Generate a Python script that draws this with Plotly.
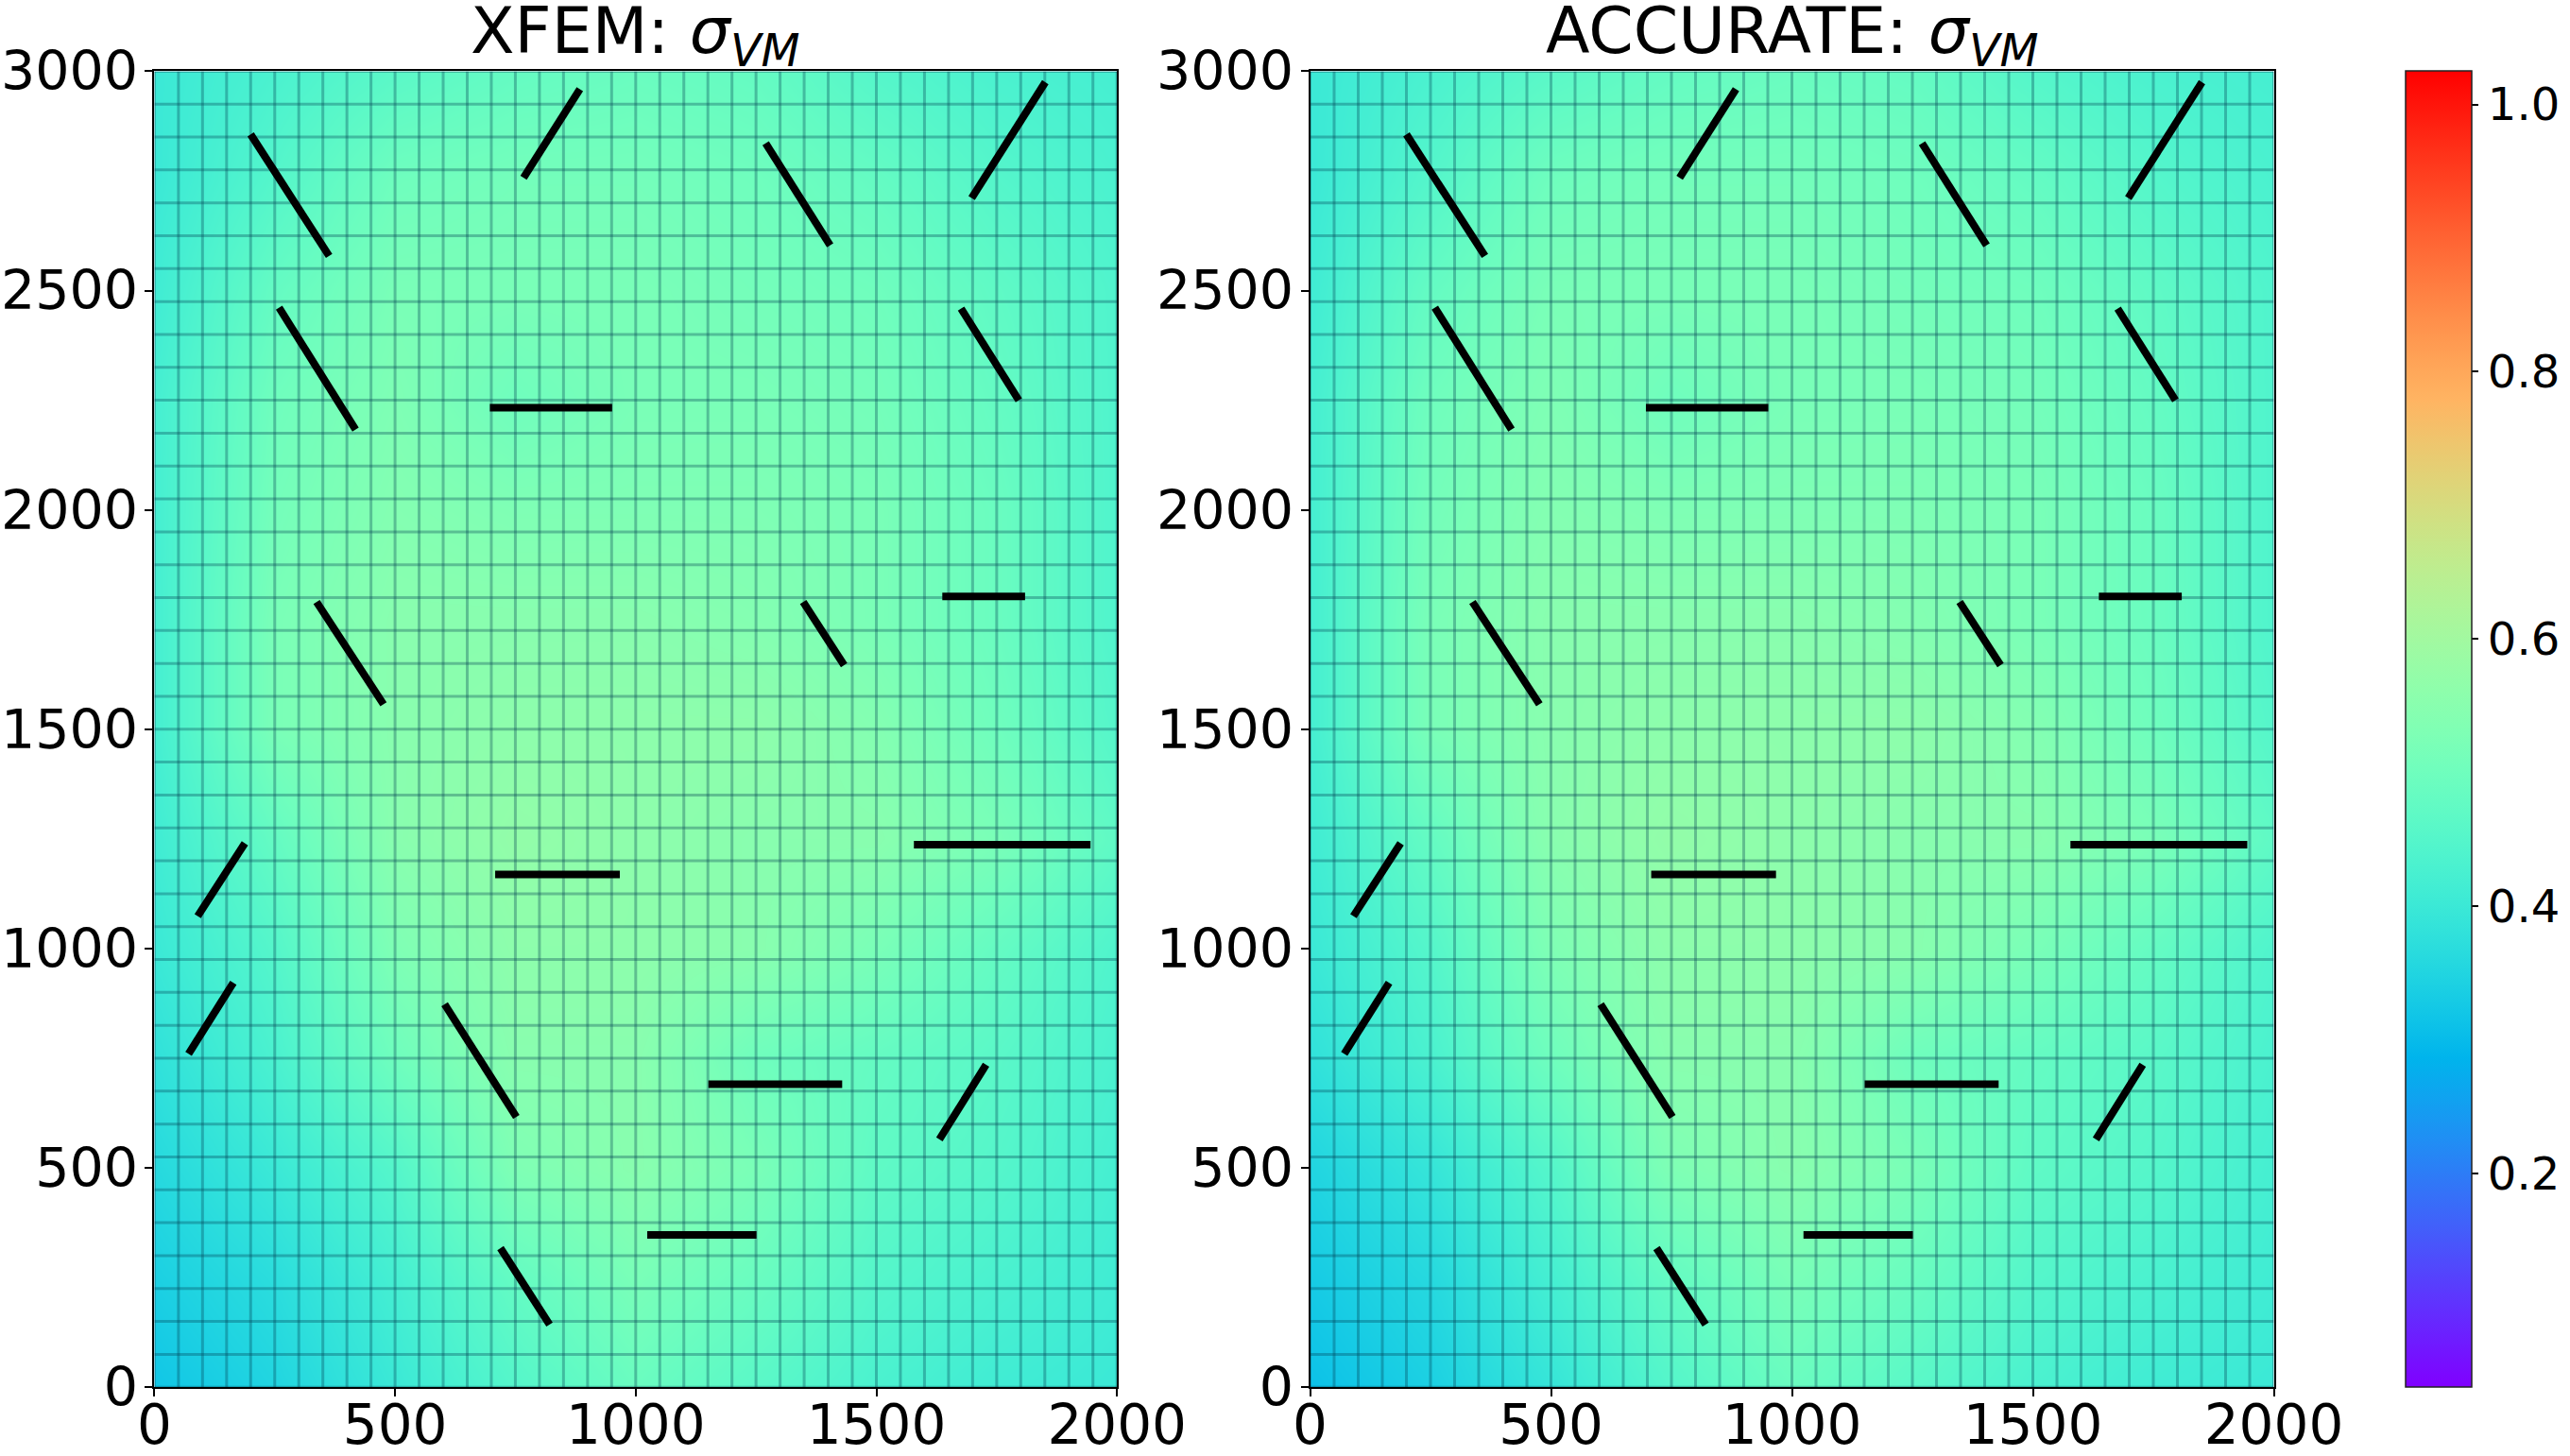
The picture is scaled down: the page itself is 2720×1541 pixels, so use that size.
import numpy as np
import plotly.graph_objects as go

# ---------------- data ----------------
field_x = [0, 250, 500, 750, 1000, 1250, 1500, 1750, 2000]
field_y = [0, 250, 500, 750, 1000, 1250, 1500, 1750, 2000, 2250, 2500, 2750, 3000]

sigma_xfem = [
    [0.32, 0.35, 0.40, 0.45, 0.49, 0.46, 0.43, 0.41, 0.40],
    [0.34, 0.37, 0.42, 0.48, 0.52, 0.49, 0.45, 0.43, 0.41],
    [0.36, 0.40, 0.45, 0.53, 0.55, 0.52, 0.47, 0.45, 0.42],
    [0.38, 0.43, 0.50, 0.55, 0.55, 0.50, 0.48, 0.46, 0.43],
    [0.40, 0.45, 0.53, 0.56, 0.56, 0.55, 0.52, 0.48, 0.44],
    [0.41, 0.48, 0.55, 0.57, 0.56, 0.55, 0.55, 0.52, 0.47],
    [0.42, 0.52, 0.55, 0.56, 0.56, 0.56, 0.54, 0.50, 0.45],
    [0.42, 0.52, 0.55, 0.55, 0.55, 0.54, 0.52, 0.49, 0.44],
    [0.42, 0.51, 0.54, 0.53, 0.53, 0.53, 0.52, 0.49, 0.44],
    [0.42, 0.50, 0.53, 0.50, 0.52, 0.52, 0.51, 0.48, 0.44],
    [0.41, 0.48, 0.52, 0.52, 0.52, 0.51, 0.50, 0.47, 0.44],
    [0.40, 0.45, 0.50, 0.51, 0.51, 0.50, 0.48, 0.45, 0.43],
    [0.40, 0.43, 0.46, 0.48, 0.49, 0.48, 0.45, 0.43, 0.42],
]

sigma_accurate = [
    [0.31, 0.34, 0.39, 0.45, 0.49, 0.46, 0.43, 0.41, 0.40],
    [0.33, 0.36, 0.42, 0.48, 0.52, 0.49, 0.45, 0.43, 0.41],
    [0.35, 0.39, 0.45, 0.53, 0.55, 0.52, 0.47, 0.45, 0.42],
    [0.38, 0.43, 0.50, 0.55, 0.55, 0.50, 0.48, 0.46, 0.43],
    [0.40, 0.45, 0.53, 0.56, 0.56, 0.55, 0.52, 0.48, 0.44],
    [0.41, 0.48, 0.55, 0.57, 0.56, 0.55, 0.55, 0.52, 0.47],
    [0.42, 0.52, 0.55, 0.56, 0.56, 0.56, 0.54, 0.50, 0.45],
    [0.42, 0.52, 0.55, 0.55, 0.55, 0.54, 0.52, 0.49, 0.44],
    [0.42, 0.51, 0.54, 0.53, 0.53, 0.53, 0.52, 0.49, 0.44],
    [0.42, 0.50, 0.53, 0.50, 0.52, 0.52, 0.51, 0.48, 0.44],
    [0.41, 0.48, 0.52, 0.52, 0.52, 0.51, 0.50, 0.47, 0.44],
    [0.40, 0.45, 0.50, 0.51, 0.51, 0.50, 0.48, 0.45, 0.43],
    [0.40, 0.43, 0.46, 0.48, 0.49, 0.48, 0.45, 0.43, 0.42],
]

# crack segments (start / end points)
crack_x0 = [200, 767, 1270, 1698, 259, 697, 1676, 337, 1348, 1637, 90, 708, 1578, 71, 603, 1151, 1631, 1024, 719]
crack_y0 = [2856, 2757, 2836, 2711, 2461, 2233, 2459, 1790, 1790, 1803, 1074, 1169, 1237, 760, 873, 691, 565, 347, 317]
crack_x1 = [363, 884, 1404, 1851, 418, 951, 1796, 476, 1433, 1809, 188, 967, 1945, 164, 752, 1429, 1728, 1251, 821]
crack_y1 = [2579, 2959, 2603, 2975, 2183, 2233, 2250, 1557, 1646, 1803, 1240, 1169, 1237, 922, 616, 691, 735, 347, 143]

# finite element mesh (40 x 40 elements)
mesh_x = list(range(0, 2001, 50))
mesh_y = list(range(0, 3001, 75))

x_ticks = [0, 500, 1000, 1500, 2000]
y_ticks = [0, 500, 1000, 1500, 2000, 2500, 3000]
cbar_ticks = [0.2, 0.4, 0.6, 0.8, 1.0]
cbar_labels = ["0.2", "0.4", "0.6", "0.8", "1.0"]
titles = ["XFEM: <i>σ</i><sub><i>VM</i></sub>", "ACCURATE: <i>σ</i><sub><i>VM</i></sub>"]

CMIN, CMAX = 0.04, 1.025

# matplotlib 'rainbow' colormap
def rainbow_scale(n=33):
    out = []
    for t in np.linspace(0, 1, n):
        r = min(1, abs(2 * t - 0.5))
        g = np.sin(np.pi * t)
        b = np.cos(np.pi * t / 2)
        out.append([float(t), "rgb(%d,%d,%d)" % (round(r * 255), round(g * 255), round(max(b, 0) * 255))])
    return out

cscale = rainbow_scale()

FONT = "DejaVu Sans"
W, H = 2720, 1541
dom_x = [[163.4 / W, 1182.2 / W], [1386.5 / W, 2406.5 / W]]
dom_y = [(H - 1468.2) / H, (H - 75.4) / H]

fig = go.Figure()

def mesh_lines():
    xs, ys = [], []
    for x in mesh_x:
        xs += [x, x, None]
        ys += [mesh_y[0], mesh_y[-1], None]
    for y in mesh_y:
        xs += [mesh_x[0], mesh_x[-1], None]
        ys += [y, y, None]
    return xs, ys

def crack_lines():
    xs, ys = [], []
    for a, b, c, d in zip(crack_x0, crack_y0, crack_x1, crack_y1):
        xs += [a, c, None]
        ys += [b, d, None]
    return xs, ys

for i, field in enumerate([sigma_xfem, sigma_accurate]):
    xa = "x" if i == 0 else "x2"
    ya = "y" if i == 0 else "y2"
    fig.add_trace(go.Heatmap(
        x=field_x, y=field_y, z=field, zsmooth="best",
        colorscale=cscale, zmin=CMIN, zmax=CMAX,
        showscale=(i == 0), xaxis=xa, yaxis=ya,
        colorbar=dict(
            x=2546 / W, xanchor="left", xpad=0,
            y=dom_y[0], yanchor="bottom", len=dom_y[1] - dom_y[0], lenmode="fraction",
            ypad=0, thickness=70, thicknessmode="pixels",
            outlinewidth=1.5, outlinecolor="#222222",
            tickvals=cbar_ticks, ticktext=cbar_labels,
            ticks="outside", ticklen=7, tickwidth=1.5, tickcolor="black",
            tickfont=dict(family=FONT, size=48, color="black"),
        ),
    ))
    mx, my = mesh_lines()
    fig.add_trace(go.Scatter(x=mx, y=my, mode="lines", xaxis=xa, yaxis=ya,
                             line=dict(color="rgba(0,60,80,0.32)", width=3),
                             hoverinfo="skip", showlegend=False))
    cx, cy = crack_lines()
    fig.add_trace(go.Scatter(x=cx, y=cy, mode="lines", xaxis=xa, yaxis=ya,
                             line=dict(color="black", width=8),
                             hoverinfo="skip", showlegend=False))

axis_x = dict(showline=True, mirror=True, linecolor="black", linewidth=2,
              ticks="outside", ticklen=8, tickwidth=2, tickcolor="black",
              showgrid=False, zeroline=False, automargin=False, ticklabelstandoff=-20,
              tickfont=dict(family=FONT, size=58, color="black"))
axis_y = dict(showline=True, mirror=True, linecolor="black", linewidth=2,
              ticks="outside", ticklen=8, tickwidth=2, tickcolor="black",
              showgrid=False, zeroline=False, automargin=False, ticklabelstandoff=-4,
              tickfont=dict(family=FONT, size=57, color="black"))

fig.update_layout(
    width=W, height=H,
    margin=dict(l=0, r=0, t=0, b=0, autoexpand=False),
    paper_bgcolor="white", plot_bgcolor="white",
    showlegend=False,
    xaxis=dict(domain=dom_x[0], range=[0, 2000], tickvals=x_ticks, anchor="y", **axis_x),
    yaxis=dict(domain=dom_y, range=[0, 3000], tickvals=y_ticks, anchor="x", **axis_y),
    xaxis2=dict(domain=dom_x[1], range=[0, 2000], tickvals=x_ticks, anchor="y2", **axis_x),
    yaxis2=dict(domain=dom_y, range=[0, 3000], tickvals=y_ticks, anchor="x2", **axis_y),
)

for i, t in enumerate(titles):
    fig.add_annotation(text=t, xref="paper", yref="paper",
                       x=(dom_x[i][0] + dom_x[i][1]) / 2, y=dom_y[1],
                       xanchor="center", yanchor="bottom", yshift=-8, showarrow=False,
                       font=dict(family=FONT, size=68, color="black"))

fig.write_html("out.html", config={"displayModeBar": False},
               post_script="document.body.style.margin='0px';")
